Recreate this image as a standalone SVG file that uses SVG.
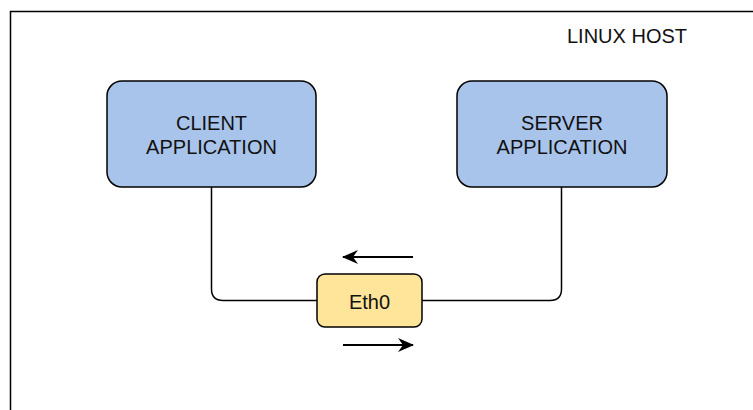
<svg xmlns="http://www.w3.org/2000/svg" width="753" height="410" viewBox="0 0 753 410">
  <style>
    .app { fill: #a9c4eb; stroke: #000; stroke-width: 1.5; }
    .nic { fill: #ffe599; stroke: #000; stroke-width: 1.5; }
    .lbl { font-family: "Liberation Sans", Arial, sans-serif; font-size: 20px; fill: #111; text-anchor: middle; }
    .wire { fill: none; stroke: #000; stroke-width: 1.5; }
    .flow { fill: none; stroke: #000; stroke-width: 2; }
  </style>
  <defs>
    <marker id="head" viewBox="0 0 16 14" refX="15" refY="7" markerWidth="16" markerHeight="14" orient="auto" markerUnits="userSpaceOnUse">
      <path d="M0,0 L16,7 L0,14 L5,7 Z" fill="#000"/>
    </marker>
  </defs>

  <rect width="753" height="410" fill="#fff"/>

  <!-- host boundary -->
  <g id="linux-host">
    <rect x="10.5" y="11.5" width="760" height="420" fill="none" stroke="#000" stroke-width="1.5"/>
    <text class="lbl" x="627" y="43">LINUX HOST</text>
  </g>

  <!-- links -->
  <g id="connectors">
    <path class="wire" d="M211.5,187 V289 Q211.5,300.5 223,300.5 H317"/>
    <path class="wire" d="M422,300.5 H550 Q561.5,300.5 561.5,289 V187"/>
    <line class="flow" x1="413" y1="257" x2="343" y2="257" marker-end="url(#head)"/>
    <line class="flow" x1="343" y1="345" x2="413" y2="345" marker-end="url(#head)"/>
  </g>

  <g id="client-app">
    <rect class="app" x="107" y="81" width="209" height="106" rx="15"/>
    <text class="lbl" x="211.5" y="130">CLIENT</text>
    <text class="lbl" x="211.5" y="154">APPLICATION</text>
  </g>

  <g id="server-app">
    <rect class="app" x="457" y="81" width="210" height="106" rx="15"/>
    <text class="lbl" x="562" y="130">SERVER</text>
    <text class="lbl" x="562" y="154">APPLICATION</text>
  </g>

  <g id="eth0">
    <rect class="nic" x="317" y="274" width="105" height="53" rx="8"/>
    <text class="lbl" x="369.5" y="309">Eth0</text>
  </g>
</svg>
